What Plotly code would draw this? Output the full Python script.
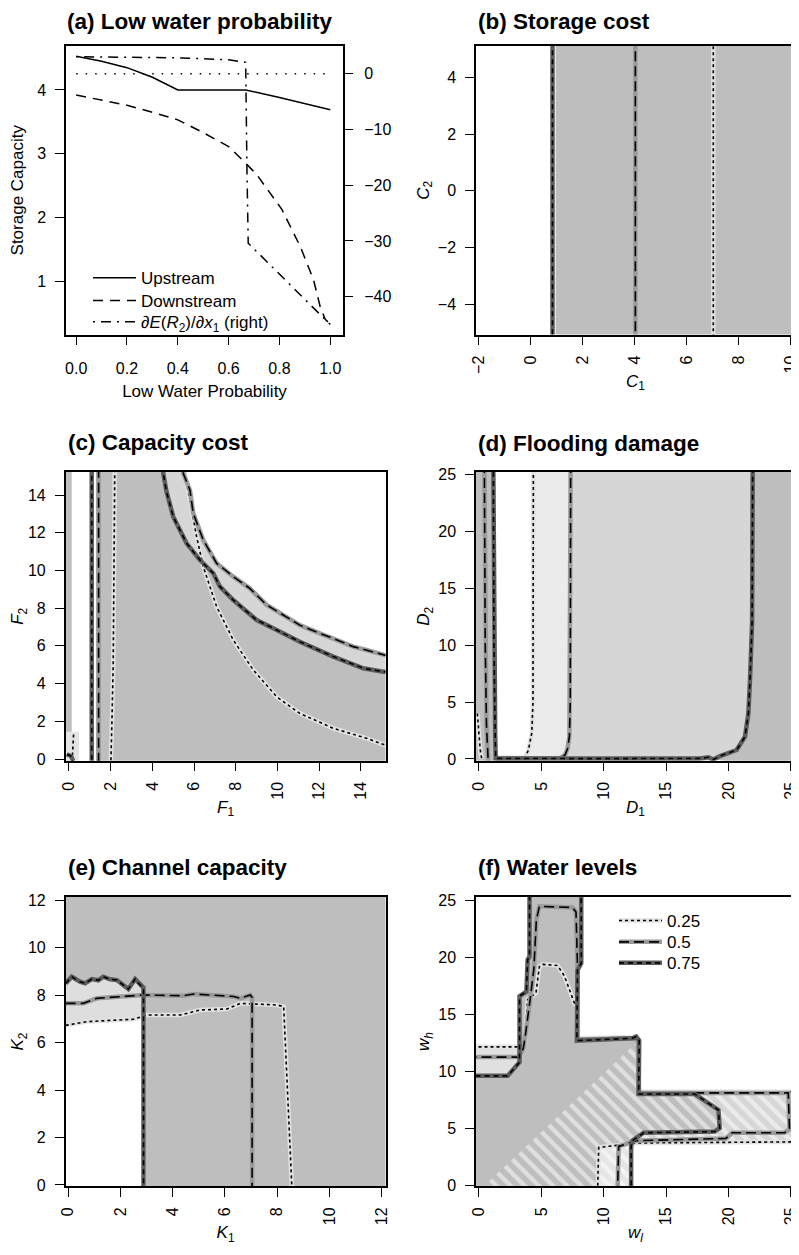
import plotly.graph_objects as go

W, H = 799, 1255
OFF = 8  # the page body margin offsets the figure by 8 px
FONT = "Liberation Sans, Arial, Helvetica, sans-serif"

GRAY = "#BEBEBE"
LIGHT = "#D6D6D6"
VLIGHT = "#EBEBEB"
UNDER = {0.25: "#E2E2E2", 0.5: "#9A9A9A", 0.75: "#5C5C5C"}
DASH = {0.25: "3px,3px", 0.5: "10px,5px", 0.75: "5px,4px"}

# ---------------- (a) Low water probability ----------------
a_prob_up = [0.0, 0.1, 0.2, 0.3, 0.4, 0.5, 0.6, 0.667, 0.8, 0.9, 1.0]
a_upstream = [4.53, 4.45, 4.35, 4.20, 4.00, 4.00, 4.00, 4.00, 3.88, 3.78, 3.69]
a_prob_down = [0.0, 0.1, 0.2, 0.3, 0.4, 0.5, 0.6, 0.667, 0.711, 0.81, 0.882, 0.934, 0.96, 0.98, 1.0]
a_downstream = [3.92, 3.84, 3.76, 3.65, 3.53, 3.33, 3.11, 2.85, 2.67, 2.12, 1.54, 1.02, 0.60, 0.40, 0.32]
a_prob_grad = [0.0, 0.2, 0.4, 0.6, 0.667, 0.672, 0.677, 1.0]
a_gradient = [3.05, 2.97, 2.85, 2.50, 2.05, -17.0, -30.4, -45.0]
a_zero_x = [0.0, 1.0]
a_zero_y = [0.0, 0.0]
a_xticks = [0.0, 0.2, 0.4, 0.6, 0.8, 1.0]
a_yticks = [1, 2, 3, 4]
a_y2ticks = [0, -10, -20, -30, -40]

# ---------------- (b) Storage cost ----------------
b_fill_x = [0.95, 11, 11, 0.95]
b_fill_y = [-6, -6, 6, 6]
b_c75_x = [0.83, 0.83]
b_c50_x = [4.02, 4.02]
b_c25_x = [7.02, 7.02]
b_line_y = [-6, 6]
b_xticks = [-2, 0, 2, 4, 6, 8, 10]
b_yticks = [-4, -2, 0, 2, 4]

# ---------------- (c) Capacity cost ----------------
c_strip_x = [-1, 0.13, 0.13, -1]
c_strip_y = [-1, -1, 16, 16]
c_patch_x = [-1, 0.48, 0.48, -1]
c_patch_y = [-1, -1, 1.45, 1.45]
c_gray_left = 1.29
c_c75_hyp_x = [4.52, 4.52, 4.68, 5.0, 5.64, 6.28, 6.92, 7.24, 7.88, 9.0, 9.96, 11.07, 12.67, 14.11, 15.07, 16.0]
c_c75_hyp_y = [16.0, 15.15, 14.17, 12.85, 11.44, 10.55, 9.85, 9.14, 8.43, 7.37, 6.84, 6.22, 5.43, 4.81, 4.63, 4.6]
c_c50_hyp_x = [5.48, 5.48, 5.8, 5.96, 6.44, 7.08, 7.88, 8.67, 9.48, 10.28, 11.07, 12.03, 12.67, 13.63, 14.27, 15.15, 16.0]
c_c50_hyp_y = [16.0, 15.15, 14.26, 13.03, 11.61, 10.38, 9.67, 9.05, 8.17, 7.64, 7.1, 6.66, 6.4, 5.96, 5.78, 5.51, 5.5]
c_c25_hyp_x = [5.56, 5.56, 5.8, 6.12, 6.44, 7.08, 7.88, 8.84, 9.96, 11.07, 12.67, 14.27, 15.15, 16.0]
c_c25_hyp_y = [16.0, 15.06, 13.73, 11.79, 10.2, 8.08, 6.31, 4.72, 3.3, 2.42, 1.63, 1.1, 0.74, 0.6]
c_c75_v_x = [1.09, 1.09]
c_c50_v_x = [1.42, 1.42]
c_v_y = [-1, 16]
c_c25_v_x = [2.2, 2.17, 2.12, 2.06, 2.01]
c_c25_v_y = [16, 10, 5, 2, -0.1]
c_c25_small_x = [0.22, 0.19, 0.15]
c_c25_small_y = [1.3, 0.6, -0.1]
c_c75_small_x = [-0.1, 0.1, 0.2]
c_c75_small_y = [0.25, 0.15, -0.1]
c_ticks = [0, 2, 4, 6, 8, 10, 12, 14]

# ---------------- (d) Flooding damage ----------------
d_left_x = [-1, 1.25, 1.25, -1]
d_left_y = [-1, -1, 26, 26]
d_c75_x = [1.15, 1.2, 1.3, 1.34, 10.0, 17.7, 18.4, 18.8, 19.33, 20.66, 21.33, 21.6, 21.73, 21.9, 21.95]
d_c75_y = [26, 10, 2, 0.05, 0.03, 0.05, 0.15, -0.05, 0.26, 0.79, 1.96, 4.0, 6.9, 12, 26]
d_c50a_x = [0.43, 0.5, 0.6, 0.75]
d_c50a_y = [26, 10, 3, -0.5]
d_c50b_x = [7.35, 7.32, 7.25, 7.1, 6.9, 6.5, 1.4]
d_c50b_y = [26, 5, 2, 0.9, 0.35, 0.08, 0.05]
d_c25a_x = [4.36, 4.33, 4.23, 3.96, 3.69, 1.4]
d_c25a_y = [26, 5, 2.25, 0.78, 0.12, 0.1]
d_c25b_x = [-0.13, -0.02, 0.1, 0.21]
d_c25b_y = [4.0, 2.0, 0.8, 0.06]
d_ticks = [0, 5, 10, 15, 20, 25]

# ---------------- (e) Channel capacity ----------------
e_bg_x = [-1, 13, 13, -1]
e_bg_y = [-1, -1, 13, 13]
e_white_edge = 2.97
e_c75_x = [-0.1, 0.13, 0.45, 0.64, 0.9, 1.15, 1.34, 1.6, 1.86, 2.18, 2.3, 2.56, 2.75, 2.88, 2.88]
e_c75_y = [8.49, 8.77, 8.56, 8.49, 8.67, 8.62, 8.77, 8.66, 8.63, 8.35, 8.25, 8.67, 8.42, 8.31, -1]
e_c50_x = [-0.1, 0.58, 1.09, 2.88, 4.41, 4.8, 6.33, 6.59, 6.97, 7.04, 7.04]
e_c50_y = [7.65, 7.65, 7.86, 8.0, 7.97, 8.04, 7.94, 7.86, 8.0, 7.9, -1]
e_c25_x = [-0.1, 0.71, 2.49, 3.01, 4.29, 5.05, 6.08, 6.59, 8.0, 8.25, 8.58]
e_c25_y = [6.72, 6.88, 6.98, 7.16, 7.16, 7.37, 7.41, 7.65, 7.58, 7.51, -0.5]
e_ticks = [0, 2, 4, 6, 8, 10, 12]

# ---------------- (f) Water levels ----------------
f_band_x = [12.2, 26, 26, 12.2]
f_band_y = [3.8, 3.8, 8.2, 8.2]
f_lstrip_x = [-1, 3.3, 3.3, -1]
f_lstrip_y = [9.6, 9.6, 12.15, 12.15]
f_c75a_x = [-1, 2.3, 3.25, 3.25, 3.8, 3.9, 4.05, 4.05]
f_c75a_y = [9.6, 9.6, 10.8, 16.6, 17.0, 19.8, 20.1, 26]
f_c75b_x = [8.2, 8.2, 7.9, 7.85, 12.3, 12.6, 12.85, 12.8, 17.3, 19.2, 19.3, 18.9, 13.2, 12.3, 12.2, 12.2]
f_c75b_y = [26, 19.5, 18.9, 12.7, 12.9, 13.05, 12.7, 8.0, 8.0, 6.6, 5.0, 4.7, 4.6, 3.9, 3.4, -1]
f_c50_x = [-1, 3.2, 3.55, 3.7, 4.1, 4.4, 4.6, 4.84, 7.5, 7.78, 7.9, 7.9, 12.4, 12.75, 12.8, 24.8, 24.9, 24.5, 20.3, 19.8, 12.6, 11.2, 11.1]
f_c50_y = [11.25, 11.25, 12.0, 13.0, 16.3, 19.0, 23.3, 24.5, 24.4, 24.0, 19.2, 12.8, 12.9, 12.6, 8.1, 8.1, 4.9, 4.6, 4.6, 4.1, 3.9, 3.4, -1]
f_c25a_x = [-1, 3.3, 3.7, 3.9, 4.57, 4.84, 5.1, 6.3, 6.84, 7.65, 7.9, 7.95, 12.4, 12.8, 12.85, 26]
f_c25a_y = [12.15, 12.15, 12.6, 16.3, 16.9, 19.2, 19.4, 19.3, 18.4, 16.0, 15.7, 12.9, 13.0, 12.5, 8.2, 8.2]
f_c25b_x = [26, 12.6, 9.6, 9.5]
f_c25b_y = [3.8, 3.7, 3.3, -1]
f_patch_x = [9.5, 12.2, 12.2, 9.5]
f_patch_y = [-1, -1, 3.4, 3.4]
f_hatch_x = [0.0, 12.7, 12.85, 12.85, 26, 26, 12.3, 12.2]
f_hatch_y = [-0.5, 12.6, 12.5, 8.2, 8.2, 3.8, 3.6, -1]
f_ticks = [0, 5, 10, 15, 20, 25]
f_levels = [0.25, 0.5, 0.75]

fig = go.Figure()


def px_x(p):
    return (p - OFF) / W


def px_y(p):
    return 1 - (p - OFF) / H


def names(i):
    return ("x" if i == 1 else f"x{i}"), ("y" if i == 1 else f"y{i}")


def add_fill(xs, ys, i, color):
    xa, ya = names(i)
    fig.add_trace(go.Scatter(x=xs, y=ys, xaxis=xa, yaxis=ya, fill="toself", fillcolor=color,
                             mode="none", showlegend=False, hoverinfo="skip"))


def add_line(xs, ys, i, color, width, dash="solid", name=None, legend=None, ya_override=None):
    xa, ya = names(i)
    if ya_override:
        ya = ya_override
    fig.add_trace(go.Scatter(x=xs, y=ys, xaxis=xa, yaxis=ya, mode="lines",
                             line=dict(color=color, width=width, dash=dash),
                             name=name if name else "", showlegend=bool(name),
                             legend=legend if legend else "legend", hoverinfo="skip"))


def add_contour(xs, ys, level, i):
    add_line(xs, ys, i, UNDER[level], 4.5)
    add_line(xs, ys, i, "black", 1.6, DASH[level])


# ---- (a)
add_line(a_prob_up, a_upstream, 1, "black", 1.5, "solid", "Upstream", "legend")
add_line(a_prob_down, a_downstream, 1, "black", 1.5, "10px,7px", "Downstream", "legend4")
add_line(a_prob_grad, a_gradient, 1, "black", 1.5, "2px,6px,10px,6px",
         "∂<i>E</i>(<i>R</i><sub>2</sub>)/∂<i>x</i><sub>1</sub> (right)", "legend5", ya_override="y7")
add_line(a_zero_x, a_zero_y, 1, "black", 1.5, "1.5px,8px", ya_override="y7")

# ---- (b)
add_fill(b_fill_x, b_fill_y, 2, GRAY)
add_contour(b_c75_x, b_line_y, 0.75, 2)
add_contour(b_c50_x, b_line_y, 0.5, 2)
add_contour(b_c25_x, b_line_y, 0.25, 2)

# ---- (c)
add_fill(c_strip_x, c_strip_y, 3, GRAY)
add_fill(c_patch_x, c_patch_y, 3, "#E4E4E4")
gx = [c_gray_left, c_gray_left] + c_c75_hyp_x + [16, 16]
gy = [-1, 16] + c_c75_hyp_y + [4.6, -1]
add_fill(gx, gy, 3, GRAY)
add_fill(c_c75_hyp_x + c_c50_hyp_x[::-1], c_c75_hyp_y + c_c50_hyp_y[::-1], 3, LIGHT)
add_contour(c_c75_v_x, c_v_y, 0.75, 3)
add_contour(c_c50_v_x, c_v_y, 0.5, 3)
add_contour(c_c25_v_x, c_c25_v_y, 0.25, 3)
add_contour(c_c25_small_x, c_c25_small_y, 0.25, 3)
add_contour(c_c75_small_x, c_c75_small_y, 0.75, 3)
add_contour(c_c25_hyp_x, c_c25_hyp_y, 0.25, 3)
add_contour(c_c50_hyp_x, c_c50_hyp_y, 0.5, 3)
add_contour(c_c75_hyp_x, c_c75_hyp_y, 0.75, 3)

# ---- (d)
add_fill(d_left_x, d_left_y, 4, GRAY)
vx = d_c25a_x + [1.4, 6.5] + d_c50b_x[:-1][::-1]
vy = d_c25a_y + [-1, -1] + d_c50b_y[:-1][::-1]
add_fill(vx, vy, 4, VLIGHT)
k = d_c75_x.index(18.8)
lx = d_c50b_x[:-1] + [6.5, 18.8] + d_c75_x[k:]
ly = d_c50b_y[:-1] + [-1, -1] + d_c75_y[k:]
add_fill(lx, ly, 4, LIGHT)
rx = d_c75_x[k:] + [26, 26]
ry = d_c75_y[k:] + [26, -1]
add_fill(rx, ry, 4, GRAY)
add_contour(d_c25b_x, d_c25b_y, 0.25, 4)
add_contour(d_c25a_x, d_c25a_y, 0.25, 4)
add_contour(d_c50a_x, d_c50a_y, 0.5, 4)
add_contour(d_c50b_x, d_c50b_y, 0.5, 4)
add_contour(d_c75_x, d_c75_y, 0.75, 4)

# ---- (e)
add_fill(e_bg_x, e_bg_y, 5, GRAY)
wx = [-1] + e_c25_x[1:3] + [e_white_edge, e_white_edge, -1]
wy = [e_c25_y[0]] + e_c25_y[1:3] + [7.05, -1, -1]
add_fill(wx, wy, 5, "white")
lx = [-1] + e_c25_x[1:3] + [e_white_edge, e_white_edge] + e_c75_x[:-1][::-1]
ly = [e_c25_y[0]] + e_c25_y[1:3] + [7.05, 8.31] + e_c75_y[:-1][::-1]
add_fill(lx, ly, 5, "#DEDEDE")
add_contour(e_c25_x, e_c25_y, 0.25, 5)
add_contour(e_c50_x, e_c50_y, 0.5, 5)
add_contour(e_c75_x, e_c75_y, 0.75, 5)

# ---- (f)
add_fill(f_band_x, f_band_y, 6, LIGHT)
add_fill(f_lstrip_x, f_lstrip_y, 6, "#E0E0E0")
mx = [-1] + f_c75a_x + f_c75b_x + [-1]
my = [-1] + f_c75a_y + f_c75b_y + [-1]
add_fill(mx, my, 6, GRAY)
add_fill(f_patch_x, f_patch_y, 6, "#E6E6E6")
fig.add_trace(go.Scatter(x=f_hatch_x, y=f_hatch_y, xaxis="x6", yaxis="y6", fill="toself",
                         fillcolor="rgba(0,0,0,0)", mode="none", showlegend=False, hoverinfo="skip",
                         fillpattern=dict(shape="\\", fgcolor="white", bgcolor="rgba(0,0,0,0)",
                                          size=10, solidity=0.45, fillmode="overlay")))
add_contour(f_c25a_x, f_c25a_y, 0.25, 6)
add_contour(f_c25b_x, f_c25b_y, 0.25, 6)
add_contour(f_c50_x, f_c50_y, 0.5, 6)
add_contour(f_c75a_x, f_c75a_y, 0.75, 6)
add_contour(f_c75b_x, f_c75b_y, 0.75, 6)
# legend entries for (f): gray underlay (labelled) + black pattern on top, one legend pair per row
f_leg_under = ["legend2", "legend6", "legend8"]
f_leg_over = ["legend3", "legend7", "legend9"]
for lev, lu, lo in zip(f_levels, f_leg_under, f_leg_over):
    fig.add_trace(go.Scatter(x=[None], y=[None], xaxis="x6", yaxis="y6", mode="lines",
                             line=dict(color=UNDER[lev], width=4.5), name=str(lev), legend=lu))
    fig.add_trace(go.Scatter(x=[None], y=[None], xaxis="x6", yaxis="y6", mode="lines",
                             line=dict(color="black", width=1.6, dash=DASH[lev]), name=str(lev),
                             legend=lo))

# ---------------- layout ----------------
boxes = {1: (66, 343, 46, 334.5), 2: (476, 795, 46, 334.5),
         3: (65.7, 385.5, 472, 760.7), 4: (476, 795, 472, 760.7),
         5: (65.7, 385.5, 896.7, 1186.3), 6: (476, 795, 896.7, 1186.3)}
spec = {
    1: dict(xr=[-0.04, 1.05], yr=[0.16, 4.69], xt=a_xticks, yt=a_yticks,
            xtitle="Low Water Probability", ytitle="Storage Capacity", rot=False),
    2: dict(xr=[-2.115, 10.165], yr=[-5.06, 5.10], xt=b_xticks, yt=b_yticks,
            xtitle="<i>C</i><sub>1</sub>", ytitle="<i>C</i><sub>2</sub>", rot=True),
    3: dict(xr=[-0.158, 15.18], yr=[-0.09, 15.22], xt=c_ticks, yt=c_ticks,
            xtitle="<i>F</i><sub>1</sub>", ytitle="<i>F</i><sub>2</sub>", rot=True),
    4: dict(xr=[-0.24, 25.34], yr=[-0.15, 25.2], xt=d_ticks, yt=d_ticks,
            xtitle="<i>D</i><sub>1</sub>", ytitle="<i>D</i><sub>2</sub>", rot=True),
    5: dict(xr=[-0.1, 12.15], yr=[-0.055, 12.14], xt=e_ticks, yt=e_ticks,
            xtitle="<i>K</i><sub>1</sub>", ytitle="<i>K</i><sub>2</sub>", rot=True),
    6: dict(xr=[-0.24, 25.34], yr=[-0.11, 25.35], xt=f_ticks, yt=f_ticks,
            xtitle="<i>w</i><sub><i>l</i></sub>", ytitle="<i>w</i><sub><i>h</i></sub>", rot=True),
}
layout = dict(template="none", width=W, height=H,
              margin=dict(l=0, r=0, t=0, b=0, pad=0, autoexpand=False),
              paper_bgcolor="white", plot_bgcolor="white",
              font=dict(family=FONT, color="black", size=16))
common = dict(showline=True, mirror=True, linecolor="black", linewidth=1.5, ticks="outside",
              ticklen=9, tickwidth=1.3, tickcolor="black", showgrid=False, zeroline=False,
              automargin=False, tickfont=dict(family=FONT, size=16, color="black"))
for i, (l, r, t, b) in boxes.items():
    s = spec[i]
    xn, yn = names(i)
    xk = "xaxis" if i == 1 else f"xaxis{i}"
    yk = "yaxis" if i == 1 else f"yaxis{i}"
    layout[xk] = dict(common, domain=[px_x(l), px_x(r)], range=s["xr"], anchor=yn, tickvals=s["xt"],
                      tickangle=-90 if s["rot"] else 0, ticklabelstandoff=4 if s["rot"] else 10,
                      title=dict(text=s["xtitle"], font=dict(family=FONT, size=17, color="black"),
                                 standoff=2 if s["rot"] else 9))
    layout[yk] = dict(common, domain=[px_y(b), px_y(t)], range=s["yr"], anchor=xn, tickvals=s["yt"],
                      tickangle=0, ticklabelstandoff=6,
                      title=dict(text=s["ytitle"], font=dict(family=FONT, size=17, color="black"),
                                 standoff=4 if s["rot"] else 14))
layout["xaxis"]["tickformat"] = ".1f"
layout["yaxis7"] = dict(overlaying="y", side="right", anchor="x", range=[-46.78, 4.97], tickvals=a_y2ticks,
                        ticks="outside", ticklen=9, tickwidth=1.3, tickcolor="black", showline=False,
                        showgrid=False, zeroline=False, automargin=False, ticklabelstandoff=8,
                        tickfont=dict(family=FONT, size=16, color="black"))
leg = dict(xanchor="left", yanchor="middle", bgcolor="rgba(0,0,0,0)", borderwidth=0,
           font=dict(family=FONT, size=17, color="black"), tracegroupgap=0, itemwidth=43)
a_rows = {"legend": 278.3, "legend4": 301, "legend5": 322.3}
for key, yy in a_rows.items():
    layout[key] = dict(leg, x=px_x(88), y=px_y(yy))
f_rows = [921, 942.3, 963.3]
for lu, lo, yy in zip(f_leg_under, f_leg_over, f_rows):
    layout[lu] = dict(leg, x=px_x(614), y=px_y(yy))
    layout[lo] = dict(leg, x=px_x(614), y=px_y(yy),
                      font=dict(family=FONT, size=17, color="rgba(0,0,0,0)"))
titles = [("(a) Low water probability", 65, 22), ("(b) Storage cost", 476, 22),
          ("(c) Capacity cost", 65.7, 442), ("(d) Flooding damage", 476, 443),
          ("(e) Channel capacity", 65.7, 868), ("(f) Water levels", 476, 868)]
layout["annotations"] = [dict(text=f"<b>{t}</b>", x=px_x(x), y=px_y(y), xref="paper", yref="paper",
                              xanchor="left", yanchor="middle", showarrow=False,
                              font=dict(family=FONT, size=22.5, color="black")) for t, x, y in titles]
fig.update_layout(**layout)
fig.write_html("out.html")
